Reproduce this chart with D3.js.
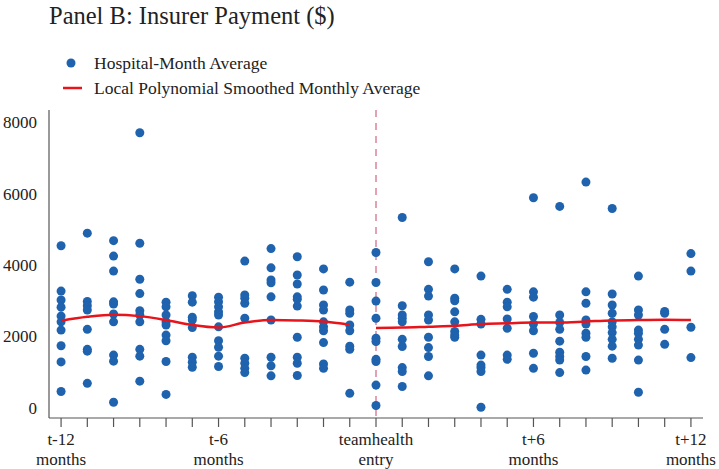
<!DOCTYPE html>
<html>
<head>
<meta charset="utf-8">
<script src="https://cdn.jsdelivr.net/npm/d3@7"></script>
<style>
  body { margin: 0; background: #fff; }
  svg { display: block; }
  svg text { font-family: "Liberation Serif", "Times New Roman", serif; }
</style>
</head>
<body>
<svg id="chart" width="719" height="469"></svg>
<script>
// months relative to teamhealth entry
const months = d3.range(-12, 13);

// hospital-month averages, one list per month
const hospitalValues = [
  [4540, 3270, 3020, 2820, 2570, 2410, 2180, 1740, 1290, 460],      // -12
  [4890, 2980, 2860, 2740, 2200, 1640, 1590, 690],                  // -11
  [4680, 4250, 3830, 2970, 2910, 2630, 2410, 1480, 1310, 160],      // -10
  [7700, 4610, 3600, 3200, 2720, 2600, 2410, 1640, 1450, 750],      // -9
  [2960, 2830, 2600, 2410, 2320, 2040, 1880, 1300, 380],            // -8
  [3140, 2960, 2540, 2460, 2250, 1420, 1280, 1140],                 // -7
  [3100, 2970, 2830, 2690, 2600, 2270, 1880, 1700, 1450, 1160],     // -6
  [4110, 3160, 3070, 2930, 2510, 1390, 1250, 1110, 990],            // -5
  [4460, 3920, 3580, 3500, 3110, 2460, 1420, 1180, 900],            // -4
  [4230, 3720, 3470, 3110, 3040, 2850, 1980, 1420, 1250, 910],      // -3
  [3890, 3300, 2880, 2740, 2410, 2270, 2160, 1830, 1230, 1110],     // -2
  [3520, 2740, 2650, 2320, 2160, 1730, 1640, 410],                  // -1
  [4350, 3510, 2990, 2510, 1950, 1860, 1360, 1300, 640, 70],        // 0
  [5330, 2860, 2600, 2510, 2410, 1920, 1720, 1130, 1020, 600],      // 1
  [4090, 3320, 3130, 2600, 2460, 1980, 1690, 1440, 900],            // 2
  [3890, 3070, 3000, 2690, 2410, 2140, 2040, 1980],                 // 3
  [3690, 2480, 2350, 1480, 1200, 1130, 1020, 20],                   // 4
  [3320, 2960, 2830, 2490, 2230, 1480, 1360],                       // 5
  [5880, 3250, 3100, 2560, 2350, 2160, 1530, 1110],                 // 6
  [5640, 2600, 2390, 2200, 1870, 1560, 1440, 1340, 990],            // 7
  [6320, 3250, 2930, 2460, 2350, 2090, 1980, 1440, 1060],           // 8
  [5580, 3190, 2880, 2650, 2410, 2270, 2110, 1920, 1730, 1390],     // 9
  [3690, 2740, 2600, 2180, 2090, 1920, 1760, 1340, 440],            // 10
  [2700, 2650, 2200, 1780],                                         // 11
  [4320, 3830, 2260, 1410]                                          // 12
];

// smoothed monthly average, pre and post entry
const smoothPreMonths = d3.range(-12, 0);
const smoothPre = [2440, 2550, 2610, 2570, 2460, 2320, 2250, 2390, 2460, 2450, 2420, 2330];
const smoothPostMonths = d3.range(0, 13);
const smoothPost = [2240, 2250, 2275, 2300, 2350, 2370, 2390, 2390, 2420, 2450, 2460, 2470, 2460];

const yTicks = [0, 2000, 4000, 6000, 8000];
const xLabels = [
  { m: -12, lines: ['t-12', 'months'] },
  { m: -6, lines: ['t-6', 'months'] },
  { m: 0, lines: ['teamhealth', 'entry'] },
  { m: 6, lines: ['t+6', 'months'] },
  { m: 12, lines: ['t+12', 'months'] }
];

const svg = d3.select('#chart');
const dotColor = '#1f62ad';
const lineColor = '#e8141c';

const x = d3.scaleLinear().domain([-12.46, 12.46]).range([49, 703]);
const y = d3.scaleLinear().domain([-280, 8336]).range([418, 110]);

// title
svg.append('text')
  .attr('x', 49).attr('y', 24)
  .attr('font-size', 24.5).attr('fill', '#222')
  .text('Panel B: Insurer Payment ($)');

// legend
svg.append('circle').attr('cx', 71).attr('cy', 63).attr('r', 4.5).attr('fill', dotColor);
svg.append('text').attr('x', 94).attr('y', 69).attr('font-size', 17.5).attr('fill', '#222')
  .text('Hospital-Month Average');
svg.append('line').attr('x1', 63).attr('x2', 82).attr('y1', 88).attr('y2', 88)
  .attr('stroke', lineColor).attr('stroke-width', 2.5);
svg.append('text').attr('x', 94).attr('y', 94).attr('font-size', 17.5).attr('fill', '#222')
  .text('Local Polynomial Smoothed Monthly Average');

// axes lines
svg.append('line').attr('x1', 49).attr('x2', 49).attr('y1', 110).attr('y2', 418)
  .attr('stroke', '#555').attr('stroke-width', 1.2);
svg.append('line').attr('x1', 49).attr('x2', 703).attr('y1', 418).attr('y2', 418)
  .attr('stroke', '#555').attr('stroke-width', 1.2);

// y tick labels (no tick marks)
svg.selectAll('.ylab').data(yTicks).enter().append('text')
  .attr('class', 'ylab')
  .attr('x', 37).attr('y', d => y(d) + 6)
  .attr('text-anchor', 'end').attr('font-size', 17).attr('fill', '#222')
  .text(d => d);

// x ticks
svg.selectAll('.xtick').data(months).enter().append('line')
  .attr('class', 'xtick')
  .attr('x1', d => x(d)).attr('x2', d => x(d))
  .attr('y1', 418).attr('y2', 427)
  .attr('stroke', '#555').attr('stroke-width', 1.2);

const xl = svg.selectAll('.xlab').data(xLabels).enter().append('text')
  .attr('class', 'xlab')
  .attr('text-anchor', 'middle').attr('font-size', 17).attr('fill', '#222');
xl.append('tspan').attr('x', d => x(d.m)).attr('y', 445).text(d => d.lines[0]);
xl.append('tspan').attr('x', d => x(d.m)).attr('y', 465).text(d => d.lines[1]);

// entry marker
svg.append('line')
  .attr('x1', x(0)).attr('x2', x(0)).attr('y1', 110).attr('y2', 418)
  .attr('stroke', '#d4708a').attr('stroke-width', 1.3)
  .attr('stroke-dasharray', '7,6');

// dots
const points = [];
hospitalValues.forEach((vals, i) => {
  vals.forEach(v => points.push({ m: months[i], v: v }));
});
svg.selectAll('.dot').data(points).enter().append('circle')
  .attr('class', 'dot')
  .attr('cx', d => x(d.m)).attr('cy', d => y(d.v))
  .attr('r', 4.5).attr('fill', dotColor);

// smoothed lines
const line = d3.line().curve(d3.curveMonotoneX).x(d => x(d[0])).y(d => y(d[1]));
svg.append('path')
  .datum(smoothPreMonths.map((m, i) => [m, smoothPre[i]]))
  .attr('d', line).attr('fill', 'none')
  .attr('stroke', lineColor).attr('stroke-width', 2.5);
svg.append('path')
  .datum(smoothPostMonths.map((m, i) => [m, smoothPost[i]]))
  .attr('d', line).attr('fill', 'none')
  .attr('stroke', lineColor).attr('stroke-width', 2.5);
</script>
</body>
</html>
